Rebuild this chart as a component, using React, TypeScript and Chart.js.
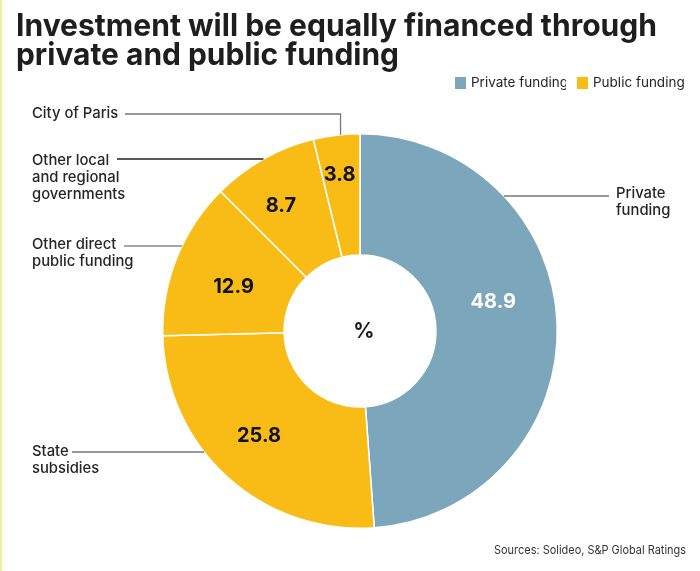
import React, { useEffect, useRef } from 'react';
import { Chart, registerables } from 'chart.js';

Chart.register(...registerables);

const categories = ['Private funding', 'State subsidies', 'Other direct public funding', 'Other local and regional governments', 'City of Paris'];
const values = [48.9, 25.8, 12.9, 8.7, 3.8];
const groups = ['Private funding', 'Public funding', 'Public funding', 'Public funding', 'Public funding'];
const legendLabels = ['Private funding', 'Public funding'];
const labelLines = [
  ['Private', 'funding'],
  ['State', 'subsidies'],
  ['Other direct', 'public funding'],
  ['Other local', 'and regional', 'governments'],
  ['City of Paris'],
];
const titleLines = ['Investment will be equally financed through', 'private and public funding'];
const sourceText = 'Sources: Solideo, S&P Global Ratings';
const centerText = '%';

const groupColors: Record<string, string> = {
  'Private funding': '#7BA6BC',
  'Public funding': '#F9BC16',
};

const FONT = 'Inter, "Noto Sans", sans-serif';
const TEXT = '#262626';

// style: value label placement (fraction of slice angle, fraction of ring depth)
const valuePlacement = [
  [0.44, 0.5],
  [0.52, 0.57],
  [0.45, 0.48],
  [0.41, 0.6],
  [0.46, 0.68],
];
const valueColors = ['#ffffff', '#111111', '#111111', '#111111', '#111111'];

// style: leader label layout
const leaderLayout = [
  { side: 'right', tx: 616, ty: 194, ly: 196, lx: 609, color: '#777777' },
  { side: 'left', tx: 32, ty: 452, ly: 452, lx: 72, color: '#777777' },
  { side: 'left', tx: 32, ty: 245, ly: 246, lx: 124, color: '#888888' },
  { side: 'left', tx: 32, ty: 161, ly: 159, lx: 117, color: '#222222' },
  { side: 'elbow', tx: 32, ty: 114, ly: 114, lx: 125, color: '#777777' },
];

const decorPlugin = {
  id: 'decor',
  afterDraw(chart: any) {
    const ctx = chart.ctx as CanvasRenderingContext2D;
    const meta = chart.getDatasetMeta(0);
    ctx.save();

    // left accent line
    ctx.fillStyle = '#EEF29C';
    ctx.fillRect(0, 0, 2, chart.height);

    // title
    ctx.fillStyle = '#1e1e1e';
    ctx.font = `bold 31px ${FONT}`;
    ctx.textBaseline = 'alphabetic';
    ctx.textAlign = 'left';
    ctx.fillText(titleLines[0], 16, 36, 641);
    ctx.fillText(titleLines[1], 16, 65, 383);

    // legend
    ctx.font = `13.5px ${FONT}`;
    ctx.textBaseline = 'middle';
    const legendX = [455, 577];
    const legendClip = [96, 200];
    legendLabels.forEach((l, i) => {
      ctx.fillStyle = groupColors[l];
      ctx.fillRect(legendX[i], 77, 11, 12);
      ctx.save();
      ctx.beginPath();
      ctx.rect(legendX[i] + 15, 70, legendClip[i], 30);
      ctx.clip();
      ctx.fillStyle = TEXT;
      ctx.fillText(l, legendX[i] + 16, 83);
      ctx.restore();
    });

    // sources
    ctx.font = `12px ${FONT}`;
    ctx.textAlign = 'right';
    ctx.fillStyle = '#333333';
    ctx.fillText(sourceText, 686, 550, 192);

    // value labels
    ctx.textAlign = 'center';
    ctx.textBaseline = 'middle';
    ctx.font = `bold 20px ${FONT}`;
    meta.data.forEach((arc: any, i: number) => {
      const p = arc.getProps(['x', 'y', 'startAngle', 'endAngle', 'innerRadius', 'outerRadius'], true);
      const [fa, fr] = valuePlacement[i];
      const a = p.startAngle + fa * (p.endAngle - p.startAngle);
      const r = p.innerRadius + fr * (p.outerRadius - p.innerRadius);
      ctx.fillStyle = valueColors[i];
      ctx.fillText(values[i].toFixed(1), p.x + r * Math.cos(a), p.y + r * Math.sin(a) + 1);
    });

    // center text
    const p0 = meta.data[0].getProps(['x', 'y'], true);
    ctx.fillStyle = '#1e1e1e';
    ctx.font = `bold 21px ${FONT}`;
    ctx.fillText(centerText, p0.x + 4, p0.y + 1);

    // leader labels
    ctx.font = `500 14.8px ${FONT}`;
    meta.data.forEach((arc: any, i: number) => {
      const p = arc.getProps(['x', 'y', 'startAngle', 'endAngle', 'outerRadius'], true);
      const L = leaderLayout[i];
      const R = p.outerRadius;
      ctx.strokeStyle = L.color;
      ctx.lineWidth = 1.3;
      ctx.beginPath();
      if (L.side === 'elbow') {
        const mid = (p.startAngle + p.endAngle) / 2;
        const ex = p.x + R * Math.cos(mid) + 4;
        const ey = p.y - Math.sqrt(Math.max(R * R - (ex - p.x) ** 2, 0));
        ctx.moveTo(L.lx, L.ly);
        ctx.lineTo(ex, L.ly);
        ctx.lineTo(ex, ey);
      } else {
        const dy = L.ly - p.y;
        const dx = Math.sqrt(Math.max(R * R - dy * dy, 0));
        const ex = L.side === 'left' ? p.x - dx : p.x + dx;
        ctx.moveTo(L.lx, L.ly);
        ctx.lineTo(ex, L.ly);
      }
      ctx.stroke();
      ctx.fillStyle = TEXT;
      ctx.textAlign = 'left';
      ctx.textBaseline = 'middle';
      labelLines[i].forEach((line, j) => {
        ctx.fillText(line, L.tx, L.ty + j * 17);
      });
    });

    ctx.restore();
  },
};

export default function App() {
  const ref = useRef<HTMLCanvasElement>(null);
  useEffect(() => {
    if (!ref.current) return;
    const chart = new Chart(ref.current, {
      type: 'doughnut',
      data: {
        labels: categories,
        datasets: [
          {
            data: values,
            backgroundColor: groups.map((g) => groupColors[g]),
            borderColor: '#ffffff',
            borderWidth: 1.5,
          },
        ],
      },
      options: {
        responsive: false,
        animation: false,
        cutout: '38.5%',
        layout: { padding: { top: 133, bottom: 42, left: 20, right: 0 } },
        plugins: {
          legend: { display: false },
          title: { display: false },
          tooltip: { enabled: false },
        },
      },
      plugins: [decorPlugin],
    });
    return () => chart.destroy();
  }, []);
  return (
    <div style={{ position: 'fixed', left: 0, top: 0, width: 700, height: 571, background: '#fff' }}>
      <canvas ref={ref} width={700} height={571} style={{ display: 'block' }} />
    </div>
  );
}
